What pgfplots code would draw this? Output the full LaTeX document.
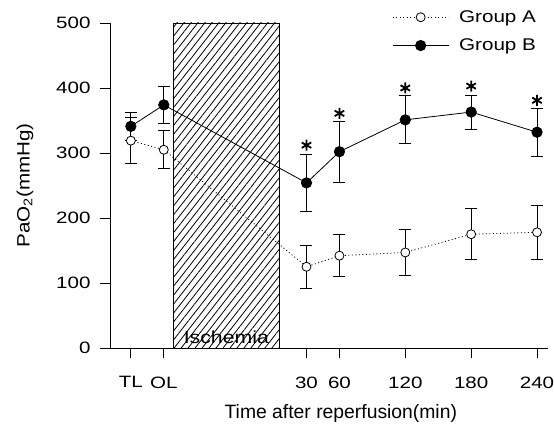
\documentclass[border=0pt]{standalone}
\usepackage{fontspec}
\setmainfont{Liberation Sans}
\newfontfamily\tickfont[FakeStretch=1.25]{Liberation Sans}
\newfontfamily\legfont[FakeStretch=1.22]{Liberation Sans}
\newfontfamily\ylabfont[FakeStretch=1.15]{Liberation Sans}
\usepackage{pgfplots}
\usepackage{pgfplotstable}
\pgfplotsset{compat=1.18}
\usetikzlibrary{patterns.meta}

\pgfplotstableread{
x y e
-130 319 35
-100 305 29
30 125 33
60 142 32
120 147 35
180 175 39
240 178 42
}\groupA

\pgfplotstableread{
x y e
-130 341 21
-100 374 29
30 254 44
60 302 47
120 351 37
180 363 26
240 332 37
}\groupB

\pgfplotstableread{
x y
30 312
60 361
120 400
180 403
240 381
}\stars

\begin{document}
\begin{tikzpicture}
\useasboundingbox (-110bp,-80bp) rectangle (444bp,348bp);
\begin{axis}[
  at={(0,0)}, anchor=south west,
  scale only axis, width=438bp, height=325bp,
  xmin=-149, xmax=250, ymin=0, ymax=500,
  axis lines=left,
  axis line style={-, line width=0.9bp},
  tick style={line width=0.8bp, black},
  tick align=outside,
  major tick length=10bp,
  xtick={-130,-100,30,60,120,180,240},
  xticklabels={TL,OL,30,60,120,180,240},
  ytick={0,100,200,300,400,500},
  /pgf/number format/assume math mode=true,
  tick label style={font=\tickfont\fontsize{16.5}{19}\selectfont},
  xticklabel style={yshift=-15bp},
  yticklabel style={xshift=-6bp},
  xlabel={Time after reperfusion(min)},
  xlabel style={at={(rel axis cs:0.527,0)}, anchor=north, yshift=-53bp, font=\fontsize{19.4}{23}\selectfont},
  ylabel={PaO\textsubscript{2}(mmHg)},
  ylabel style={at={(rel axis cs:0,0.5)}, anchor=center, yshift=85bp, font=\ylabfont\fontsize{18}{22}\selectfont},
  legend style={draw=none, fill=none, at={(rel axis cs:0.644,1.045)}, anchor=north west,
    font=\legfont\fontsize{17}{20}\selectfont, row sep=11bp, inner sep=0pt,
    /tikz/every odd column/.append style={column sep=8bp}},
  legend cell align=left,
  legend image code/.code={\draw[mark repeat=2,mark phase=2,#1] plot coordinates {(0bp,0bp) (28bp,0bp) (56bp,0bp)};},
  clip=false,
]
\addplot[draw=black, line width=0.9bp, pattern={Lines[angle=52, distance=5.5bp, line width=0.8bp]}, forget plot]
  coordinates {(-91,500) (5.5,500)} \closedcycle;
\node[font=\legfont\fontsize{17.5}{20}\selectfont] at (axis cs:-43,17) {Ischemia};

\addplot[black, line width=0.8bp, dash pattern=on 1bp off 2.5bp,
  mark=*, mark size=4.5bp, mark options={solid, fill=white, line width=0.8bp},
  error bars/.cd, y dir=both, y explicit,
  error bar style={solid, line width=0.8bp},
  error mark options={rotate=90, mark size=6bp, line width=0.8bp, solid}]
  table[x=x, y=y, y error=e] {\groupA};
\addlegendentry{Group A}

\addplot[black, line width=0.8bp, solid,
  mark=*, mark size=5.2bp, mark options={solid, fill=black},
  error bars/.cd, y dir=both, y explicit,
  error bar style={solid, line width=0.8bp},
  error mark options={rotate=90, mark size=6bp, line width=0.8bp, solid}]
  table[x=x, y=y, y error=e] {\groupB};
\addlegendentry{Group B}

\addplot[only marks, mark=asterisk, mark size=5.5bp, mark options={line width=1.8bp, black}, forget plot]
  table[x=x, y=y] {\stars};
\end{axis}
\end{tikzpicture}
\end{document}
